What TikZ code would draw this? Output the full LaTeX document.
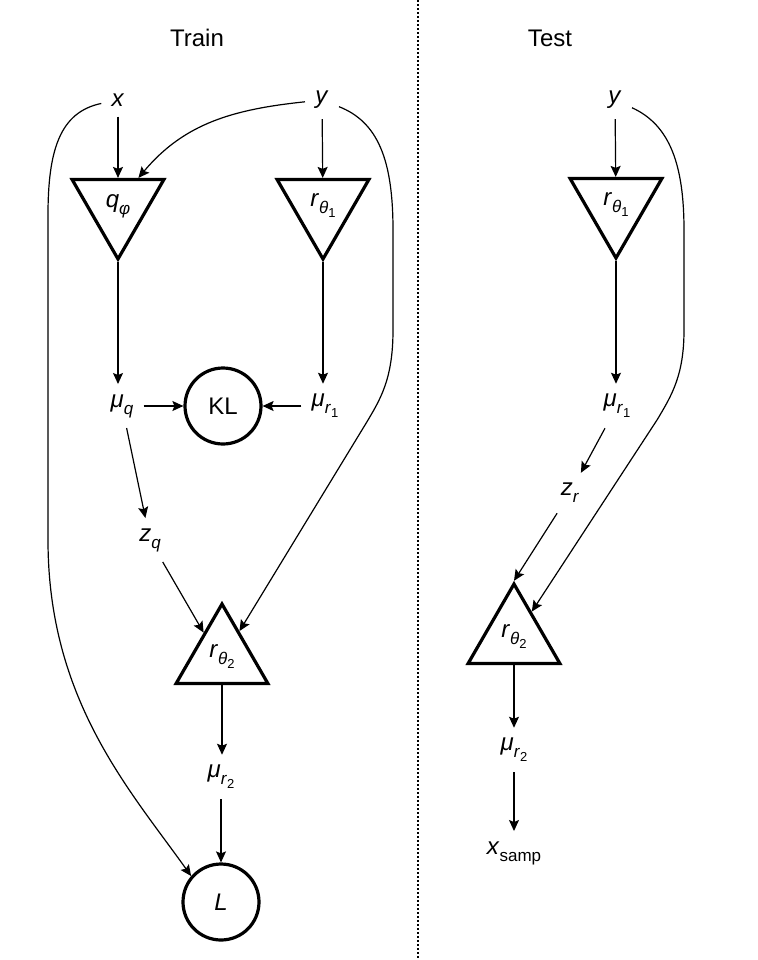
\documentclass[tikz,border=0pt]{standalone}
\usepackage{fontspec}
\setmainfont{Liberation Sans}
\usetikzlibrary{arrows.meta,shapes.geometric}
\newcommand{\vsub}[2]{\textit{#1}\raisebox{-0.55ex}{\fontsize{8.5}{10}\selectfont #2}}
\newcommand{\ssub}[2]{\textit{#1}\raisebox{-0.45ex}{\fontsize{6.5}{8}\selectfont #2}}
\tikzset{
  lbl/.style={inner sep=5pt, font=\fontsize{12}{14}\selectfont},
  tri/.style={draw, regular polygon, regular polygon sides=3, minimum size=53pt,
    inner sep=0pt, line width=1.6pt, font=\fontsize{12}{14}\selectfont},
  tridown/.style={tri, shape border rotate=180},
  lossnode/.style={draw, circle, minimum size=38pt, inner sep=0pt, line width=1.6pt,
    font=\fontsize{12}{14}\selectfont},
  conn/.style={-{Stealth[length=5.5pt,width=5pt,inset=1pt]}, line width=0.6pt},
}

\begin{document}
\begin{tikzpicture}[x=0.5pt, y=-0.5pt]
  \useasboundingbox (0,0) rectangle (758,960);

  % ---------- Divider ----------
  \coordinate (divtop) at (418,0);
  \coordinate (divbot) at (418,960);
  \draw[dash pattern=on 1pt off 1pt, line width=1pt] (divtop) -- (divbot);

  % ---------- Left panel: train ----------
  \node[lbl] (train) at (197,38) {Train};
  \node[lbl] (x) at (118,100) {\textit{x}};
  \node[lbl] (y) at (322,100) {\textit{y}};
  \node[tridown] (qphi) at (118,206) {\vsub{q}{\textit{φ}}};
  \node[tridown] (rone) at (323,206) {\vsub{r}{\ssub{θ}{1}}};
  \node[lossnode] (KL) at (223,406) {KL};
  \node[lbl] (muq) at (122,406) {\vsub{μ}{\textit{q}}};
  \node[lbl] (mur1) at (325,406) {\vsub{μ}{\ssub{r}{1}}};
  \node[lbl] (zq) at (150,540) {\vsub{z}{\textit{q}}};
  \node[tri] (rtwo) at (222,657) {\vsub{r}{\ssub{θ}{2}}};
  \node[lbl] (mur2) at (221,777) {\vsub{μ}{\ssub{r}{2}}};
  \node[lossnode] (L) at (221,902) {\textit{L}};

  \draw[conn] (x) -- (qphi);
  \draw[conn] (y) to[out=186, in=50] (qphi.54);
  \draw[conn] (y) -- (rone);
  \draw[conn] (qphi.south) -- (qphi.south |- muq.north);
  \draw[conn] (rone.south) -- (rone.south |- mur1.north);
  \draw[conn] (muq) -- (KL);
  \draw[conn] (mur1) -- (KL);
  \draw[conn] (muq) -- (zq);
  \draw[conn] (zq) -- (rtwo.127);
  \draw[conn] (y) .. controls (378,122) and (393,160) .. (393,230) -- (393,330)
    .. controls (393,380) and (380,400) .. (365,425) -- (rtwo.56);
  \draw[conn] (rtwo.south) -- (rtwo.south |- mur2.north);
  \draw[conn] (mur2) -- (L);
  \draw[conn] (x) .. controls (60,112) and (48,150) .. (48,215) -- (48,540)
    .. controls (48,700) and (130,790) .. (L.139);

  % ---------- Right panel: test ----------
  \node[lbl] (test) at (550,38) {Test};
  \node[lbl] (yT) at (615,100) {\textit{y}};
  \node[tridown] (roneT) at (616,205) {\vsub{r}{\ssub{θ}{1}}};
  \node[lbl] (mur1T) at (617,406) {\vsub{μ}{\ssub{r}{1}}};
  \node[lbl] (zr) at (570,493) {\vsub{z}{\textit{r}}};
  \node[tri] (rtwoT) at (514,637) {\vsub{r}{\ssub{θ}{2}}};
  \node[lbl] (mur2T) at (514,750) {\vsub{μ}{\ssub{r}{2}}};
  \node[lbl] (xsamp) at (514,853) {\vsub{x}{samp}};

  \draw[conn] (yT) -- (roneT);
  \draw[conn] (roneT.south) -- (roneT.south |- mur1T.north);
  \draw[conn] (mur1T) -- (zr);
  \draw[conn] (zr) -- (rtwoT.north);
  \draw[conn] (yT) .. controls (670,125) and (684,165) .. (684,230) -- (684,330)
    .. controls (684,375) and (672,395) .. (657,420) -- (rtwoT.55);
  \draw[conn] (rtwoT.south) -- (rtwoT.south |- mur2T.north);
  \draw[conn] (mur2T) -- (xsamp);
\end{tikzpicture}
\end{document}
